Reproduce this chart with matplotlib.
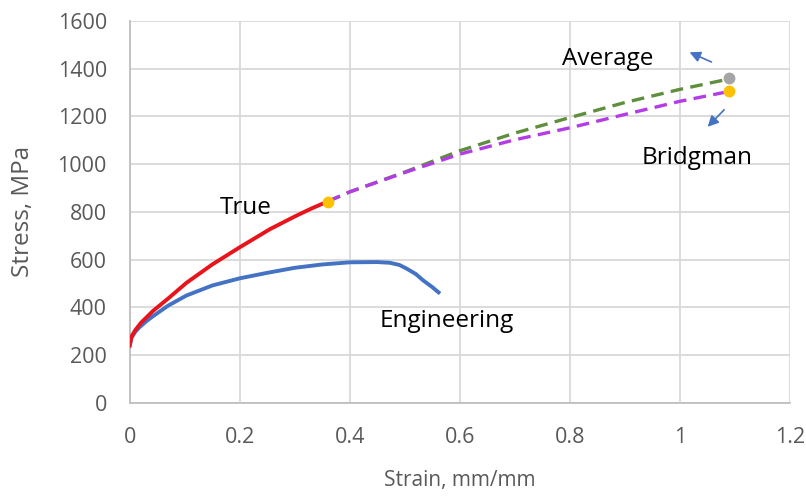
import matplotlib
matplotlib.use("Agg")
import matplotlib.pyplot as plt

eng_strain = [0, 0.003, 0.01, 0.018, 0.03, 0.042, 0.07, 0.103, 0.15, 0.2, 0.25, 0.3, 0.35,
              0.4, 0.45, 0.473, 0.49, 0.503, 0.52, 0.533, 0.55, 0.564]
eng_stress = [240, 272, 298, 318, 342, 363, 408, 450, 492, 522, 545, 566, 580,
              589, 590, 587, 578, 563, 540, 514, 485, 458]

true_strain = [0, 0.003, 0.01, 0.02, 0.042, 0.07, 0.103, 0.15, 0.2, 0.255, 0.3, 0.33, 0.361]
true_stress = [240, 278, 305, 335, 385, 438, 503, 580, 652, 728, 781, 814, 845]

avg_strain = [0.361, 0.4, 0.5, 0.6, 0.7, 0.8, 0.9, 1.0, 1.08]
avg_stress = [845, 884, 967, 1056, 1130, 1195, 1258, 1313, 1352]

brd_strain = [0.361, 0.4, 0.5, 0.6, 0.7, 0.8, 0.9, 1.0, 1.08]
brd_stress = [845, 884, 965, 1042, 1102, 1152, 1208, 1263, 1300]

necking_pt = (0.361, 843)
avg_end = (1.09, 1362)
brd_end = (1.09, 1305)

plt.rcParams['font.family'] = ['Open Sans', 'DejaVu Sans']

fig = plt.figure(figsize=(8.06, 4.96), dpi=100)
ax = fig.add_axes([0.161, 0.1875, 0.819, 0.7705])

ax.plot(eng_strain, eng_stress, color='#4472C4', lw=2.8, solid_capstyle='butt', solid_joinstyle='round', zorder=3)
ax.plot(true_strain, true_stress, color='#E8141B', lw=2.8, solid_joinstyle='round', zorder=3)
ax.plot(avg_strain, avg_stress, color='#5E8E3E', lw=2.4, ls=(0, (3.8, 2.2)), zorder=3)
ax.plot(brd_strain, brd_stress, color='#B43CE6', lw=2.4, ls=(0, (3.8, 2.2)), zorder=3)
ax.plot(*necking_pt, 'o', color='#FFC000', ms=7.5, zorder=4)
ax.plot(*avg_end, 'o', color='#A5A5A5', ms=7.5, zorder=4)
ax.plot(*brd_end, 'o', color='#FFC000', ms=7.5, zorder=4)

ax.annotate('', xy=(1.013, 1473), xytext=(1.062, 1423),
            arrowprops=dict(arrowstyle='-|>', color='#4472C4', lw=1.2, mutation_scale=16))
ax.annotate('', xy=(1.047, 1148), xytext=(1.084, 1236),
            arrowprops=dict(arrowstyle='-|>', color='#4472C4', lw=1.2, mutation_scale=16))

tfs = 17.5
ax.text(0.869, 1414, 'Average', fontsize=tfs, ha='center', va='baseline', color='black')
ax.text(1.032, 1000, 'Bridgman', fontsize=tfs, ha='center', va='baseline', color='black')
ax.text(0.2106, 793, 'True', fontsize=tfs, ha='center', va='baseline', color='black')
ax.text(0.4545, 319, 'Engineering', fontsize=tfs, ha='left', va='baseline', color='black')

ax.set_xlim(0, 1.2)
ax.set_ylim(0, 1600)
ax.set_xticks([0, 0.2, 0.4, 0.6, 0.8, 1.0, 1.2])
ax.set_xticklabels(['0', '0.2', '0.4', '0.6', '0.8', '1', '1.2'])
ax.set_yticks(range(0, 1601, 200))
ax.grid(True, color='#D9D9D9', lw=1.3)
ax.set_axisbelow(True)
for s in ['top', 'right']:
    ax.spines[s].set_visible(False)
for s in ['left', 'bottom']:
    ax.spines[s].set_color('#BFBFBF')
    ax.spines[s].set_linewidth(1.3)
ax.tick_params(length=0, labelsize=15.5, colors='#595959')
ax.tick_params(axis='y', pad=16.5)
ax.tick_params(axis='x', pad=17)
ax.set_xlabel('Strain, mm/mm', fontsize=15, color='#595959', labelpad=16)
ax.set_ylabel('Stress, MPa', fontsize=17.5, color='#595959', labelpad=16)

fig.savefig('out.png', dpi=100)
